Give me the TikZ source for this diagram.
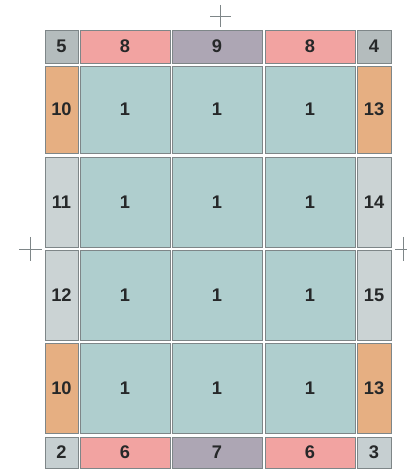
\documentclass[tikz,border=0pt]{standalone}
\usepackage{fontspec}
\setsansfont{Liberation Sans}
\usepackage{xcolor}
\usepackage{tikz}
\usetikzlibrary{positioning}
\definecolor{cpage}{HTML}{AFCECE}
\definecolor{cpink}{HTML}{F2A3A1}
\definecolor{cmauve}{HTML}{ADA6B4}
\definecolor{ctan}{HTML}{E6AF82}
\definecolor{cside}{HTML}{CBD3D4}
\definecolor{ccornd}{HTML}{B4BCBD}
\definecolor{ccornl}{HTML}{C6CFD1}
\definecolor{cedge}{HTML}{7E8688}
\definecolor{cink}{HTML}{262829}
\tikzset{
  cell/.style={draw=cedge,line width=.5pt,inner sep=0pt,text=cink,
               font=\sffamily\bfseries\fontsize{13}{14}\selectfont},
  pg/.style={cell,fill=cpage,minimum width=2.25cm},
  bar/.style={cell,fill=cpink,minimum width=2.25cm},
  mid/.style={cell,fill=cmauve,minimum width=2.25cm},
  lft/.style={cell,minimum width=.825cm},
  rgt/.style={cell,minimum width=.85cm},
  tall/.style={minimum height=2.25cm},
  tallA/.style={minimum height=2.175cm},
  topr/.style={minimum height=.825cm},
  botr/.style={minimum height=.775cm},
  reg/.style={draw=cedge,line width=.45pt}
}
\begin{document}
\begin{tikzpicture}[x=0.025cm,y=-0.025cm]
\useasboundingbox (0,0) rectangle (407,471);
% top strip
\node[lft,topr,fill=ccornd] (c5) at (61.5,46.5) {5};
\node[bar,topr] (t8a) at (125,46.5) {8};
\node[mid,topr] (t9) at (217,46.5) {9};
\node[bar,topr] (t8b) at (310,46.5) {8};
\node[rgt,topr,fill=ccornd] (c4) at (374,46.5) {4};
% row 1
\node[lft,tallA,fill=ctan] (l10a) at (61.5,109.5) {10};
\node[pg,tallA] (p11) at (125,109.5) {1};
\node[pg,tallA] (p12) at (217,109.5) {1};
\node[pg,tallA] (p13) at (310,109.5) {1};
\node[rgt,tallA,fill=ctan] (r13a) at (374,109.5) {13};
% row 2
\node[lft,tall,fill=cside] (l11) at (61.5,202) {11};
\node[pg,tall] (p21) at (125,202) {1};
\node[pg,tall] (p22) at (217,202) {1};
\node[pg,tall] (p23) at (310,202) {1};
\node[rgt,tall,fill=cside] (r14) at (374,202) {14};
% row 3
\node[lft,tall,fill=cside] (l12) at (61.5,295) {12};
\node[pg,tall] (p31) at (125,295) {1};
\node[pg,tall] (p32) at (217,295) {1};
\node[pg,tall] (p33) at (310,295) {1};
\node[rgt,tall,fill=cside] (r15) at (374,295) {15};
% row 4
\node[lft,tall,fill=ctan] (l10b) at (61.5,388) {10};
\node[pg,tall] (p41) at (125,388) {1};
\node[pg,tall] (p42) at (217,388) {1};
\node[pg,tall] (p43) at (310,388) {1};
\node[rgt,tall,fill=ctan] (r13b) at (374,388) {13};
% bottom strip
\node[lft,botr,fill=ccornl] (c2) at (61.5,452.5) {2};
\node[bar,botr] (b6a) at (125,452.5) {6};
\node[mid,botr] (b7) at (217,452.5) {7};
\node[bar,botr] (b6b) at (310,452.5) {6};
\node[rgt,botr,fill=ccornl] (c3) at (374,452.5) {3};

% registration marks
\draw[reg] (220,5) -- (220,27) (210,16) -- (231,16);
\draw[reg] (30,237) -- (30,261) (19,249) -- (42,249);
\draw[reg] (403,237) -- (403,261) (395,249) -- (407,249);
\end{tikzpicture}
\end{document}
